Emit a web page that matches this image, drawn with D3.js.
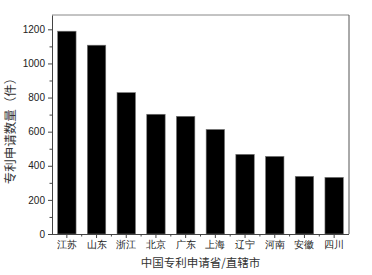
<!DOCTYPE html>
<html>
<head>
<meta charset="utf-8">
<style>
    body { margin: 0; background: #fff; }
    .axis text { font-family: "Liberation Sans", Arial, sans-serif; font-size: 10px; fill: #222; }
    .axis path, .axis line { stroke: #444; }
    .cat { font-family: "Noto Sans CJK SC", sans-serif; font-size: 9.5px; fill: #333; }
    .lbl { font-family: "Noto Sans CJK SC", sans-serif; fill: #333; }
</style>
</head>
<body>
<script src="https://cdn.jsdelivr.net/npm/d3@7"></script>
<script>
// provinces and patent counts
var provinces = ["江苏", "山东", "浙江", "北京", "广东", "上海", "辽宁", "河南", "安徽", "四川"];
var counts = [1189, 1107, 829, 702, 690, 613, 467, 455, 338, 332];
var yTicks = [0, 200, 400, 600, 800, 1000, 1200];

var width = 372, height = 275;
var plotL = 52, plotR = 349, plotT = 15, plotB = 234;

var svg = d3.select("body").append("svg")
    .attr("width", width)
    .attr("height", height);

var x = d3.scaleBand()
    .domain(provinces)
    .range([plotL, plotR])
    .paddingInner(0.38)
    .paddingOuter(0.19);

var y = d3.scaleLinear()
    .domain([0, 1284])
    .range([plotB, plotT]);

// bars
svg.selectAll("rect.bar")
    .data(provinces)
    .enter()
    .append("rect")
    .attr("class", "bar")
    .attr("x", function (d) { return x(d); })
    .attr("y", function (d, i) { return y(counts[i]); })
    .attr("width", x.bandwidth())
    .attr("height", function (d, i) { return plotB - y(counts[i]); })
    .attr("fill", "#000")
    .attr("stroke", "#777")
    .attr("stroke-width", 0.6);

// frame top + right
svg.append("line").attr("x1", plotL).attr("x2", plotR).attr("y1", plotT).attr("y2", plotT)
    .attr("stroke", "#888").attr("stroke-width", 1);
svg.append("line").attr("x1", plotR).attr("x2", plotR).attr("y1", plotT).attr("y2", plotB)
    .attr("stroke", "#555").attr("stroke-width", 1);

// y axis with minor ticks
var yMinor = d3.range(100, 1300, 200);
svg.append("g")
    .attr("class", "axis")
    .attr("transform", "translate(" + plotL + ",0)")
    .call(d3.axisLeft(y).tickValues(yMinor).tickSize(2.5).tickFormat(""))
    .select(".domain").remove();
svg.append("g")
    .attr("class", "axis")
    .attr("transform", "translate(" + plotL + ",0)")
    .call(d3.axisLeft(y).tickValues(yTicks).tickSizeInner(4).tickSizeOuter(0).tickPadding(3).tickFormat(d3.format("d")));

// x axis: major ticks at centers, minor at band edges
var xEdge = d3.scaleLinear().domain([0, provinces.length]).range([plotL, plotR]);
var edges = d3.range(1, provinces.length);
svg.append("g")
    .attr("transform", "translate(0," + plotB + ")")
    .selectAll("line")
    .data(edges)
    .enter()
    .append("line")
    .attr("x1", function (d) { return xEdge(d); })
    .attr("x2", function (d) { return xEdge(d); })
    .attr("y1", 0).attr("y2", 2.5)
    .attr("stroke", "#444");

var xAxis = svg.append("g")
    .attr("class", "axis")
    .attr("transform", "translate(0," + plotB + ")")
    .call(d3.axisBottom(x).tickSizeInner(4).tickSizeOuter(0).tickPadding(3));
xAxis.selectAll("text").attr("class", "cat");
xAxis.select(".domain").attr("d", "M" + plotL + ",0.5H" + plotR);

// axis labels
svg.append("text")
    .attr("class", "lbl")
    .attr("transform", "translate(15,128) rotate(-90)")
    .attr("text-anchor", "middle")
    .style("font-size", "12.5px")
    .text("专利申请数量（件）");

svg.append("text")
    .attr("class", "lbl")
    .attr("x", (plotL + plotR) / 2)
    .attr("y", 267)
    .attr("text-anchor", "middle")
    .style("font-size", "11.5px")
    .text("中国专利申请省/直辖市");
</script>
</body>
</html>
